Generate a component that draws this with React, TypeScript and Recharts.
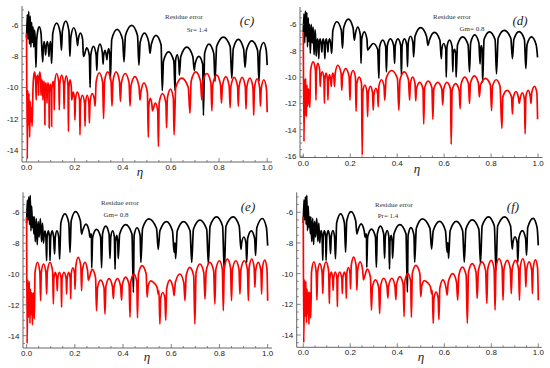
import React from 'react';
import { LineChart, Line, XAxis, YAxis } from 'recharts';

type Pt = [number, number];

// residue error, panel (c) Sr = 1.4
const cBlack: Pt[] = [
  [0.000, -6.8], [0.003, -5.3], [0.006, -6.9], [0.009, -5.1], [0.012, -7.2], [0.015, -5.4], [0.018, -7.4],
  [0.021, -5.8], [0.024, -7.1], [0.027, -6.1], [0.030, -7.4], [0.033, -6.3], [0.036, -6.9], [0.039, -8.7],
  [0.042, -7.0], [0.046, -6.4], [0.053, -6.1], [0.060, -6.5], [0.067, -8.35], [0.069, -7.6], [0.073, -7.05],
  [0.077, -7.5], [0.079, -7.9], [0.081, -7.5], [0.086, -7.05], [0.091, -7.5], [0.093, -8.0], [0.095, -7.5],
  [0.099, -7.05], [0.102, -7.6], [0.104, -8.45],
  [0.109, -6.5], [0.125, -5.85], [0.140, -6.5], [0.145, -7.6],
  [0.149, -6.35], [0.163, -5.72], [0.176, -6.35], [0.180, -8.0],
  [0.184, -6.75], [0.196, -6.15], [0.208, -6.75], [0.212, -7.3],
  [0.215, -6.9], [0.224, -6.5], [0.233, -6.9], [0.236, -8.0],
  [0.239, -7.95], [0.250, -7.45], [0.261, -7.95], [0.264, -10.0],
  [0.267, -7.9], [0.278, -7.35], [0.289, -7.9], [0.292, -8.9],
  [0.295, -7.75], [0.305, -7.2], [0.315, -7.75], [0.318, -8.5],
  [0.320, -8.0], [0.326, -7.6], [0.332, -8.0], [0.334, -8.2],
  [0.336, -7.9], [0.341, -7.5], [0.346, -7.9], [0.348, -9.5],
  [0.354, -6.9], [0.376, -6.25], [0.399, -6.9], [0.405, -8.35],
  [0.411, -6.65], [0.437, -6.0], [0.461, -6.65], [0.467, -8.56],
  [0.472, -7.1], [0.490, -6.5], [0.508, -7.1], [0.513, -7.8],
  [0.518, -7.25], [0.538, -6.64], [0.559, -7.25], [0.564, -10.2],
  [0.569, -8.3], [0.590, -7.7], [0.612, -8.3], [0.617, -10.2],
  [0.619, -8.3], [0.626, -7.9], [0.633, -8.4], [0.635, -9.2],
  [0.641, -8.0], [0.666, -7.4], [0.691, -8.0], [0.697, -8.9],
  [0.700, -8.5], [0.716, -8.0], [0.732, -8.5], [0.735, -11.8],
  [0.740, -7.8], [0.758, -7.2], [0.778, -7.8], [0.783, -9.6],
  [0.790, -7.35], [0.818, -6.75], [0.846, -7.35], [0.853, -9.4],
  [0.859, -7.5], [0.880, -6.9], [0.902, -7.5], [0.908, -8.7],
  [0.914, -7.6], [0.936, -7.0], [0.960, -7.6], [0.966, -9.6],
  [0.970, -7.7], [0.985, -7.1], [0.996, -7.6], [1.000, -8.56],
];

const cRed: Pt[] = [
  [0.000, -6.5], [0.003, -14.6], [0.005, -10.2], [0.008, -12.4], [0.010, -10.4], [0.013, -13.2], [0.015, -10.9],
  [0.018, -12.2], [0.020, -11.3], [0.023, -12.5], [0.026, -10.5],
  [0.028, -9.6], [0.033, -9.0], [0.038, -9.6], [0.040, -10.8],
  [0.041, -9.8], [0.045, -9.2], [0.049, -9.8], [0.050, -10.5],
  [0.051, -9.6], [0.055, -9.0], [0.059, -9.6], [0.060, -10.5],
  [0.061, -10.0], [0.064, -9.5], [0.067, -10.0], [0.068, -10.8],
  [0.069, -10.1], [0.072, -9.6], [0.075, -10.1], [0.076, -12.4],
  [0.077, -10.2], [0.080, -9.7], [0.084, -10.2], [0.085, -11.0],
  [0.086, -10.2], [0.089, -9.7], [0.093, -10.2], [0.094, -12.6],
  [0.095, -10.3], [0.099, -9.8], [0.103, -10.3], [0.104, -12.5],
  [0.105, -10.1], [0.110, -9.6], [0.114, -10.1], [0.115, -11.45],
  [0.117, -9.7], [0.125, -9.1], [0.134, -9.7], [0.136, -11.45],
  [0.138, -9.8], [0.146, -9.2], [0.154, -9.8], [0.156, -11.4],
  [0.158, -9.85], [0.165, -9.25], [0.172, -9.85], [0.174, -12.84],
  [0.176, -10.0], [0.181, -9.5], [0.186, -10.0], [0.1875, -10.8],
  [0.189, -10.7], [0.194, -10.3], [0.199, -10.7], [0.201, -12.1],
  [0.203, -10.8], [0.211, -10.3], [0.220, -10.8], [0.222, -13.05],
  [0.224, -11.0], [0.232, -10.5], [0.241, -11.0], [0.243, -12.5],
  [0.245, -11.0], [0.252, -10.5], [0.259, -11.0], [0.261, -12.3],
  [0.264, -10.9], [0.273, -10.4], [0.282, -10.8], [0.285, -11.2],
  [0.289, -9.65], [0.302, -9.05], [0.316, -9.65], [0.320, -12.0],
  [0.324, -9.6], [0.337, -9.0], [0.351, -9.6], [0.355, -11.2],
  [0.359, -9.6], [0.372, -9.0], [0.386, -9.6], [0.390, -10.9],
  [0.394, -9.7], [0.410, -9.1], [0.426, -9.7], [0.430, -11.2],
  [0.434, -9.9], [0.450, -9.3], [0.467, -9.9], [0.4715, -10.8],
  [0.475, -10.3], [0.488, -9.7], [0.502, -10.3], [0.506, -13.2],
  [0.508, -11.2], [0.514, -10.7], [0.521, -11.1], [0.523, -11.5],
  [0.526, -11.4], [0.535, -11.0], [0.545, -11.5], [0.548, -13.8],
  [0.551, -11.0], [0.565, -10.4], [0.579, -11.0], [0.582, -12.6],
  [0.585, -10.7], [0.598, -10.1], [0.610, -10.7], [0.613, -13.05],
  [0.620, -10.0], [0.645, -9.4], [0.672, -10.0], [0.679, -11.66],
  [0.684, -9.6], [0.703, -9.0], [0.723, -9.6], [0.728, -10.8],
  [0.732, -9.7], [0.749, -9.1], [0.766, -9.7], [0.770, -11.5],
  [0.774, -9.8], [0.790, -9.2], [0.806, -9.8], [0.810, -11.0],
  [0.814, -9.9], [0.828, -9.3], [0.842, -9.9], [0.846, -11.3],
  [0.849, -9.95], [0.863, -9.35], [0.877, -9.95], [0.880, -11.2],
  [0.883, -9.95], [0.896, -9.35], [0.909, -9.95], [0.912, -11.4],
  [0.915, -10.0], [0.928, -9.4], [0.941, -10.0], [0.944, -11.8],
  [0.947, -10.05], [0.958, -9.45], [0.969, -10.05], [0.972, -11.2],
  [0.975, -10.1], [0.986, -9.5], [0.997, -10.1], [1.000, -11.6],
];

// panel (d) Gm = 0.8
const dBlack: Pt[] = [
  [0.000, -6.6], [0.003, -5.2], [0.006, -7.4], [0.009, -5.0], [0.012, -6.9], [0.015, -5.1], [0.018, -7.7],
  [0.021, -5.5], [0.024, -7.3], [0.027, -6.0], [0.030, -8.2], [0.034, -6.0], [0.038, -7.4], [0.042, -6.2],
  [0.046, -8.3], [0.050, -6.4], [0.053, -7.2], [0.055, -8.4],
  [0.058, -7.5], [0.061, -7.1], [0.064, -7.5], [0.066, -8.6],
  [0.068, -7.5], [0.072, -7.1], [0.076, -7.5], [0.079, -8.1],
  [0.081, -7.5], [0.085, -7.1], [0.089, -7.5], [0.092, -8.6],
  [0.094, -7.5], [0.098, -7.1], [0.102, -7.5], [0.105, -8.1],
  [0.107, -7.5], [0.112, -7.1], [0.117, -7.5], [0.121, -8.2],
  [0.126, -6.45], [0.143, -5.8], [0.162, -6.45], [0.167, -7.8],
  [0.172, -6.25], [0.192, -5.6], [0.212, -6.25], [0.2175, -7.2],
  [0.221, -6.8], [0.232, -6.2], [0.243, -6.8], [0.246, -8.96],
  [0.249, -7.1], [0.260, -6.56], [0.271, -7.1], [0.274, -7.95],
  [0.279, -7.85], [0.298, -7.45], [0.317, -7.9], [0.322, -10.1],
  [0.325, -7.7], [0.338, -7.2], [0.351, -7.7], [0.354, -9.6],
  [0.358, -7.6], [0.371, -7.1], [0.385, -7.6], [0.389, -8.96],
  [0.392, -7.6], [0.403, -7.1], [0.415, -7.6], [0.418, -9.85],
  [0.421, -7.6], [0.431, -7.1], [0.441, -7.6], [0.444, -9.2],
  [0.447, -7.4], [0.457, -6.9], [0.467, -7.4], [0.470, -8.47],
  [0.476, -6.9], [0.500, -6.25], [0.525, -6.9], [0.531, -7.6],
  [0.537, -7.2], [0.559, -6.6], [0.582, -7.2], [0.588, -8.6],
  [0.590, -7.9], [0.598, -7.45], [0.607, -7.9], [0.609, -10.0],
  [0.612, -7.7], [0.623, -7.2], [0.634, -7.7], [0.637, -9.6],
  [0.639, -8.2], [0.644, -7.9], [0.649, -8.2], [0.651, -10.0],
  [0.657, -7.55], [0.679, -6.95], [0.702, -7.55], [0.708, -9.6],
  [0.713, -7.4], [0.730, -6.8], [0.748, -7.4], [0.753, -9.0],
  [0.755, -8.0], [0.758, -7.6], [0.762, -8.0], [0.764, -10.4],
  [0.770, -7.15], [0.793, -6.56], [0.817, -7.15], [0.823, -9.75],
  [0.830, -7.05], [0.856, -6.45], [0.884, -7.05], [0.891, -8.6],
  [0.897, -7.15], [0.919, -6.55], [0.942, -7.15], [0.948, -9.36],
  [0.953, -7.55], [0.972, -6.95], [0.992, -7.55], [0.998, -8.5],
];

const dRed: Pt[] = [
  [0.000, -6.6], [0.003, -14.9], [0.005, -10.2], [0.008, -12.9], [0.010, -10.1], [0.013, -13.0], [0.016, -10.6],
  [0.019, -12.2], [0.022, -10.9], [0.025, -11.4], [0.028, -12.3],
  [0.031, -9.5], [0.042, -8.85], [0.052, -9.5], [0.054, -11.75],
  [0.056, -9.5], [0.062, -8.96], [0.070, -9.5], [0.072, -10.7],
  [0.074, -10.1], [0.081, -9.6], [0.088, -10.1], [0.090, -12.0],
  [0.092, -10.2], [0.097, -9.7], [0.103, -10.2], [0.105, -11.75],
  [0.107, -10.3], [0.112, -9.8], [0.117, -10.3], [0.119, -10.7],
  [0.121, -10.2], [0.126, -9.7], [0.131, -10.2], [0.133, -10.7],
  [0.136, -9.7], [0.147, -9.1], [0.161, -9.7], [0.164, -11.0],
  [0.167, -9.95], [0.181, -9.35], [0.195, -9.95], [0.199, -11.75],
  [0.202, -10.0], [0.212, -9.5], [0.222, -10.0], [0.225, -12.6],
  [0.228, -10.5], [0.238, -10.0], [0.248, -10.5], [0.251, -15.9],
  [0.254, -11.1], [0.262, -10.6], [0.271, -11.1], [0.274, -13.0],
  [0.277, -11.2], [0.286, -10.7], [0.295, -11.2], [0.298, -12.5],
  [0.301, -11.3], [0.309, -10.85], [0.317, -11.3], [0.319, -12.25],
  [0.322, -10.7], [0.333, -10.2], [0.344, -10.7], [0.347, -11.75],
  [0.353, -10.1], [0.376, -9.5], [0.401, -10.1], [0.407, -12.5],
  [0.412, -10.2], [0.430, -9.6], [0.448, -10.2], [0.453, -11.75],
  [0.456, -10.5], [0.466, -10.0], [0.476, -10.5], [0.479, -11.8],
  [0.482, -10.9], [0.496, -10.4], [0.510, -10.9], [0.513, -13.56],
  [0.517, -10.8], [0.532, -10.3], [0.548, -10.8], [0.552, -13.2],
  [0.556, -10.9], [0.573, -10.4], [0.590, -10.9], [0.594, -12.1],
  [0.598, -10.9], [0.612, -10.4], [0.627, -10.9], [0.630, -15.1],
  [0.634, -11.0], [0.649, -10.5], [0.664, -11.0], [0.668, -12.4],
  [0.672, -10.55], [0.688, -10.0], [0.704, -10.55], [0.708, -12.0],
  [0.712, -10.45], [0.729, -9.9], [0.746, -10.45], [0.750, -11.5],
  [0.755, -10.6], [0.776, -10.1], [0.797, -10.6], [0.802, -12.54],
  [0.806, -10.7], [0.822, -10.2], [0.838, -10.7], [0.846, -13.9],
  [0.850, -11.5], [0.868, -11.0], [0.887, -11.5], [0.891, -12.8],
  [0.894, -11.6], [0.906, -11.1], [0.917, -11.6], [0.920, -12.0],
  [0.923, -11.7], [0.933, -11.2], [0.942, -11.7], [0.945, -14.3],
  [0.948, -11.5], [0.958, -11.0], [0.967, -11.5], [0.970, -12.0],
  [0.973, -11.2], [0.985, -10.7], [0.995, -11.2], [0.998, -13.2],
];

// panels (e) Gm = 0.8 and (f) Pr = 1.4 look the same
const efBlack: Pt[] = [
  [0.000, -6.7], [0.003, -5.2], [0.006, -6.5], [0.009, -5.0], [0.012, -6.8], [0.015, -4.9], [0.018, -7.2],
  [0.021, -5.6], [0.024, -7.0], [0.027, -6.3], [0.030, -7.4],
  [0.032, -6.3], [0.036, -7.9], [0.040, -6.4], [0.044, -8.1], [0.048, -6.6], [0.052, -7.6], [0.057, -6.4],
  [0.062, -7.9], [0.066, -6.7], [0.070, -8.0],
  [0.072, -7.6], [0.076, -7.2], [0.080, -7.6], [0.083, -9.14],
  [0.085, -7.6], [0.090, -7.2], [0.095, -7.6], [0.097, -9.14],
  [0.100, -7.6], [0.106, -7.2], [0.112, -7.6], [0.116, -8.7],
  [0.119, -7.6], [0.126, -7.2], [0.133, -7.6], [0.137, -9.03],
  [0.142, -6.7], [0.159, -6.1], [0.175, -6.7], [0.180, -8.6],
  [0.185, -6.55], [0.203, -5.96], [0.223, -6.55], [0.228, -7.41],
  [0.232, -7.2], [0.246, -6.76], [0.259, -7.2], [0.263, -7.62],
  [0.265, -7.5], [0.267, -7.4], [0.269, -7.6], [0.270, -9.6],
  [0.274, -7.6], [0.290, -7.1], [0.307, -7.6], [0.311, -9.6],
  [0.315, -7.4], [0.328, -6.9], [0.342, -7.4], [0.346, -9.0],
  [0.349, -7.6], [0.357, -7.2], [0.364, -7.6], [0.367, -9.7],
  [0.369, -7.9], [0.374, -7.5], [0.378, -7.9], [0.380, -9.0],
  [0.386, -7.4], [0.411, -6.8], [0.437, -7.4], [0.443, -11.2],
  [0.446, -7.5], [0.458, -7.0], [0.471, -7.5], [0.474, -9.25],
  [0.481, -7.05], [0.507, -6.43], [0.539, -7.05], [0.546, -8.4],
  [0.553, -7.2], [0.580, -6.6], [0.605, -7.2], [0.612, -8.6],
  [0.613, -8.2], [0.615, -8.0], [0.617, -8.2], [0.618, -9.0],
  [0.625, -7.2], [0.651, -6.6], [0.678, -7.2], [0.685, -9.25],
  [0.692, -7.1], [0.719, -6.5], [0.747, -7.1], [0.754, -9.35],
  [0.761, -6.9], [0.788, -6.3], [0.813, -6.9], [0.820, -9.8],
  [0.827, -6.9], [0.857, -6.3], [0.882, -6.9], [0.889, -8.4],
  [0.892, -8.0], [0.901, -7.6], [0.910, -8.0], [0.913, -9.25],
  [0.917, -7.7], [0.932, -7.2], [0.946, -7.7], [0.950, -8.8],
  [0.955, -7.0], [0.978, -6.4], [0.995, -7.0], [1.000, -8.16],
];

const efRed: Pt[] = [
  [0.000, -6.3], [0.002, -14.5], [0.005, -10.4], [0.008, -12.8], [0.011, -10.5], [0.014, -13.2], [0.016, -11.0],
  [0.019, -12.6], [0.021, -11.2], [0.024, -13.3], [0.027, -11.2], [0.032, -12.9],
  [0.035, -9.9], [0.045, -9.24], [0.055, -9.9], [0.058, -11.73],
  [0.061, -9.9], [0.070, -9.35], [0.080, -9.9], [0.083, -11.3],
  [0.086, -9.85], [0.097, -9.24], [0.108, -9.85], [0.111, -11.95],
  [0.113, -10.3], [0.119, -9.9], [0.125, -10.3], [0.127, -11.1],
  [0.129, -10.3], [0.136, -9.9], [0.143, -10.3], [0.145, -12.16],
  [0.147, -10.3], [0.155, -9.9], [0.164, -10.3], [0.166, -11.3],
  [0.168, -10.3], [0.175, -9.9], [0.181, -10.3], [0.183, -11.62],
  [0.185, -10.0], [0.192, -9.6], [0.199, -10.0], [0.201, -11.0],
  [0.204, -9.5], [0.214, -8.92], [0.225, -9.5], [0.228, -11.08],
  [0.231, -9.8], [0.242, -9.24], [0.253, -9.8], [0.256, -10.4],
  [0.260, -10.25], [0.272, -9.7], [0.286, -10.25], [0.290, -12.38],
  [0.294, -10.9], [0.307, -10.4], [0.321, -10.9], [0.325, -12.6],
  [0.329, -10.8], [0.342, -10.3], [0.356, -10.8], [0.360, -11.6],
  [0.363, -10.8], [0.377, -10.3], [0.390, -10.8], [0.394, -11.7],
  [0.397, -10.7], [0.411, -10.2], [0.425, -10.7], [0.429, -12.8],
  [0.432, -10.5], [0.445, -10.0], [0.457, -10.5], [0.460, -12.85],
  [0.464, -10.0], [0.479, -9.46], [0.496, -10.0], [0.500, -11.5],
  [0.504, -10.8], [0.515, -10.45], [0.530, -10.6], [0.542, -10.9], [0.546, -11.3], [0.549, -11.1], [0.553, -13.25],
  [0.556, -11.6], [0.565, -11.2], [0.574, -11.6], [0.577, -13.0],
  [0.581, -10.95], [0.594, -10.4], [0.608, -10.95], [0.612, -11.4],
  [0.617, -10.55], [0.636, -10.0], [0.652, -10.55], [0.657, -11.73],
  [0.662, -10.1], [0.677, -9.57], [0.693, -10.1], [0.698, -13.24],
  [0.703, -9.9], [0.719, -9.35], [0.735, -9.9], [0.740, -11.62],
  [0.745, -9.8], [0.760, -9.24], [0.776, -9.8], [0.781, -11.95],
  [0.785, -9.7], [0.800, -9.14], [0.812, -9.7], [0.816, -12.38],
  [0.820, -9.6], [0.833, -9.03], [0.846, -9.6], [0.850, -11.73],
  [0.854, -9.7], [0.868, -9.14], [0.881, -9.7], [0.885, -11.3],
  [0.889, -9.7], [0.903, -9.14], [0.916, -9.7], [0.920, -11.73],
  [0.923, -9.6], [0.934, -9.03], [0.944, -9.6], [0.947, -10.86],
  [0.950, -9.8], [0.961, -9.24], [0.972, -9.8], [0.975, -11.3],
  [0.978, -9.65], [0.988, -9.1], [0.997, -9.65], [1.000, -11.73],
];

const xLabels = [0, 0.2, 0.4, 0.6, 0.8, 1.0];
const xMinor = [0, 0.05, 0.1, 0.15, 0.2, 0.25, 0.3, 0.35, 0.4, 0.45, 0.5, 0.55, 0.6, 0.65, 0.7, 0.75, 0.8, 0.85, 0.9, 0.95, 1];
const yLabels14 = [-14, -12, -10, -8, -6];
const yMinor14 = [-14.5, -14, -13.5, -13, -12.5, -12, -11.5, -11, -10.5, -10, -9.5, -9, -8.5, -8, -7.5, -7, -6.5, -6, -5.5, -5];
const yLabels16 = [-16, -14, -12, -10, -8, -6];
const yMinor16 = [-16, -15.5, -15, -14.5, -14, -13.5, -13, -12.5, -12, -11.5, -11, -10.5, -10, -9.5, -9, -8.5, -8, -7.5, -7, -6.5, -6, -5.5, -5];

const FRAME = '#666';
const LABEL = '#222';
const tickFont = { fontFamily: 'Liberation Sans, Arial, sans-serif', fontSize: 8, fill: LABEL };

const pts = (a: Pt[]) => a.map(([x, y]) => ({ x, y }));
const isIn = (list: number[], v: number) => list.some((m) => Math.abs(m - v) < 1e-6);

interface PanelProps {
  left: number;
  top: number;
  plot: { l: number; t: number; r: number; b: number };
  xDomain: [number, number];
  yDomain: [number, number];
  yMinor: number[];
  yLabels: number[];
  black: Pt[];
  red: Pt[];
}

const W = 275;
const H = 184;

const Panel: React.FC<PanelProps> = ({ left, top, plot, xDomain, yDomain, yMinor, yLabels, black, red }) => {
  const bottomTick = (p: any) => {
    const v = p.payload.value;
    const major = isIn(xLabels, v);
    return (
      <g>
        <line x1={p.x} x2={p.x} y1={p.y} y2={p.y - (major ? 4 : 2)} stroke={FRAME} strokeWidth={0.8} />
        {major && (
          <text x={p.x} y={p.y + 8} textAnchor="middle" {...tickFont}>
            {v.toFixed(1)}
          </text>
        )}
      </g>
    );
  };
  const topTick = (p: any) => {
    const major = isIn(xLabels, p.payload.value);
    return <line x1={p.x} x2={p.x} y1={p.y} y2={p.y + (major ? 4 : 2)} stroke={FRAME} strokeWidth={0.8} />;
  };
  const leftTick = (p: any) => {
    const v = p.payload.value;
    const major = isIn(yLabels, v);
    return (
      <g>
        <line x1={p.x} x2={p.x + (major ? 4 : 2)} y1={p.y} y2={p.y} stroke={FRAME} strokeWidth={0.8} />
        {major && (
          <text x={p.x - 3.5} y={p.y + 3} textAnchor="end" {...tickFont}>
            {String(v)}
          </text>
        )}
      </g>
    );
  };
  const rightTick = (p: any) => {
    const major = isIn(yLabels, p.payload.value);
    return <line x1={p.x} x2={p.x - (major ? 4 : 2)} y1={p.y} y2={p.y} stroke={FRAME} strokeWidth={0.8} />;
  };

  const axisCommon = {
    type: 'number' as const,
    allowDataOverflow: true,
    interval: 0 as const,
    tickSize: 0,
    tickMargin: 0,
    tickLine: false,
    axisLine: { stroke: FRAME, strokeWidth: 1 },
  };

  return (
    <div style={{ position: 'absolute', left, top, width: W, height: H }}>
      <LineChart width={W} height={H} margin={{ top: plot.t, right: W - plot.r, bottom: 0, left: 0 }}>
        <XAxis xAxisId="b" dataKey="x" {...axisCommon} domain={xDomain} ticks={xMinor} height={H - plot.b} tick={bottomTick} />
        <XAxis xAxisId="t" dataKey="x" orientation="top" {...axisCommon} domain={xDomain} ticks={xMinor} height={0} tick={topTick} />
        <YAxis yAxisId="l" dataKey="y" {...axisCommon} domain={yDomain} ticks={yMinor} width={plot.l} tick={leftTick} />
        <YAxis yAxisId="r" dataKey="y" orientation="right" {...axisCommon} domain={yDomain} ticks={yMinor} width={0} tick={rightTick} />
        <Line
          xAxisId="b"
          yAxisId="l"
          data={pts(black)}
          dataKey="y"
          type="monotone"
          stroke="#000000"
          strokeWidth={1.7}
          dot={false}
          isAnimationActive={false}
        />
        <Line
          xAxisId="b"
          yAxisId="l"
          data={pts(red)}
          dataKey="y"
          type="monotone"
          stroke="#ff0000"
          strokeWidth={1.7}
          dot={false}
          isAnimationActive={false}
        />
      </LineChart>
    </div>
  );
};

const noteFont = { fontFamily: 'Liberation Serif, Times New Roman, serif', fontSize: 7, fill: '#333' };
const letterFont = { fontFamily: 'Liberation Serif, Times New Roman, serif', fontSize: 13, fontStyle: 'italic' as const, fill: '#222' };
const etaFont = { fontFamily: 'Liberation Serif, Times New Roman, serif', fontSize: 13, fontStyle: 'italic' as const, fill: '#222' };

const App: React.FC = () => {
  return (
    <div style={{ position: 'absolute', left: 0, top: 0, width: 550, height: 368, background: '#fff' }}>
      <Panel
        left={0}
        top={0}
        plot={{ l: 22, t: 6, r: 272, b: 162 }}
        xDomain={[-0.019, 1.02]}
        yDomain={[-14.8, -4.75]}
        yMinor={yMinor14}
        yLabels={yLabels14}
        black={cBlack}
        red={cRed}
      />
      <Panel
        left={275}
        top={0}
        plot={{ l: 25, t: 7, r: 267.5, b: 157.5 }}
        xDomain={[-0.014, 1.019]}
        yDomain={[-16.1, -4.68]}
        yMinor={yMinor16}
        yLabels={yLabels16}
        black={dBlack}
        red={dRed}
      />
      <Panel
        left={0}
        top={184}
        plot={{ l: 23, t: 8.3, r: 272, b: 164 }}
        xDomain={[-0.015, 1.018]}
        yDomain={[-14.8, -4.7]}
        yMinor={yMinor14}
        yLabels={yLabels14}
        black={efBlack}
        red={efRed}
      />
      <Panel
        left={275}
        top={184}
        plot={{ l: 21.7, t: 8.3, r: 266.7, b: 163.3 }}
        xDomain={[-0.028, 1.0145]}
        yDomain={[-14.8, -4.7]}
        yMinor={yMinor14}
        yLabels={yLabels14}
        black={efBlack}
        red={efRed}
      />
      <svg width={550} height={368} style={{ position: 'absolute', left: 0, top: 0, pointerEvents: 'none' }}>
        <text x={184} y={18.5} textAnchor="middle" {...noteFont}>Residue error</text>
        <text x={197} y={31.5} textAnchor="middle" {...noteFont}>Sr= 1.4</text>
        <text x={247} y={24.5} textAnchor="middle" {...letterFont}>(c)</text>
        <text x={140} y={176} textAnchor="middle" {...etaFont}>η</text>

        <text x={452} y={18.5} textAnchor="middle" {...noteFont}>Residue error</text>
        <text x={472} y={30.5} textAnchor="middle" {...noteFont}>Gm= 0.8</text>
        <text x={520} y={24.5} textAnchor="middle" {...letterFont}>(d)</text>
        <text x={417} y={173} textAnchor="middle" {...etaFont}>η</text>

        <text x={120} y={204.5} textAnchor="middle" {...noteFont}>Residue error</text>
        <text x={116} y={216.5} textAnchor="middle" {...noteFont}>Gm= 0.8</text>
        <text x={248} y={211} textAnchor="middle" {...letterFont}>(e)</text>
        <text x={147} y={361} textAnchor="middle" {...etaFont}>η</text>

        <text x={394} y={206.5} textAnchor="middle" {...noteFont}>Residue error</text>
        <text x={388} y={218} textAnchor="middle" {...noteFont}>Pr= 1.4</text>
        <text x={513} y={211} textAnchor="middle" {...letterFont}>(f)</text>
        <text x={421} y={361} textAnchor="middle" {...etaFont}>η</text>
      </svg>
    </div>
  );
};

export default App;
